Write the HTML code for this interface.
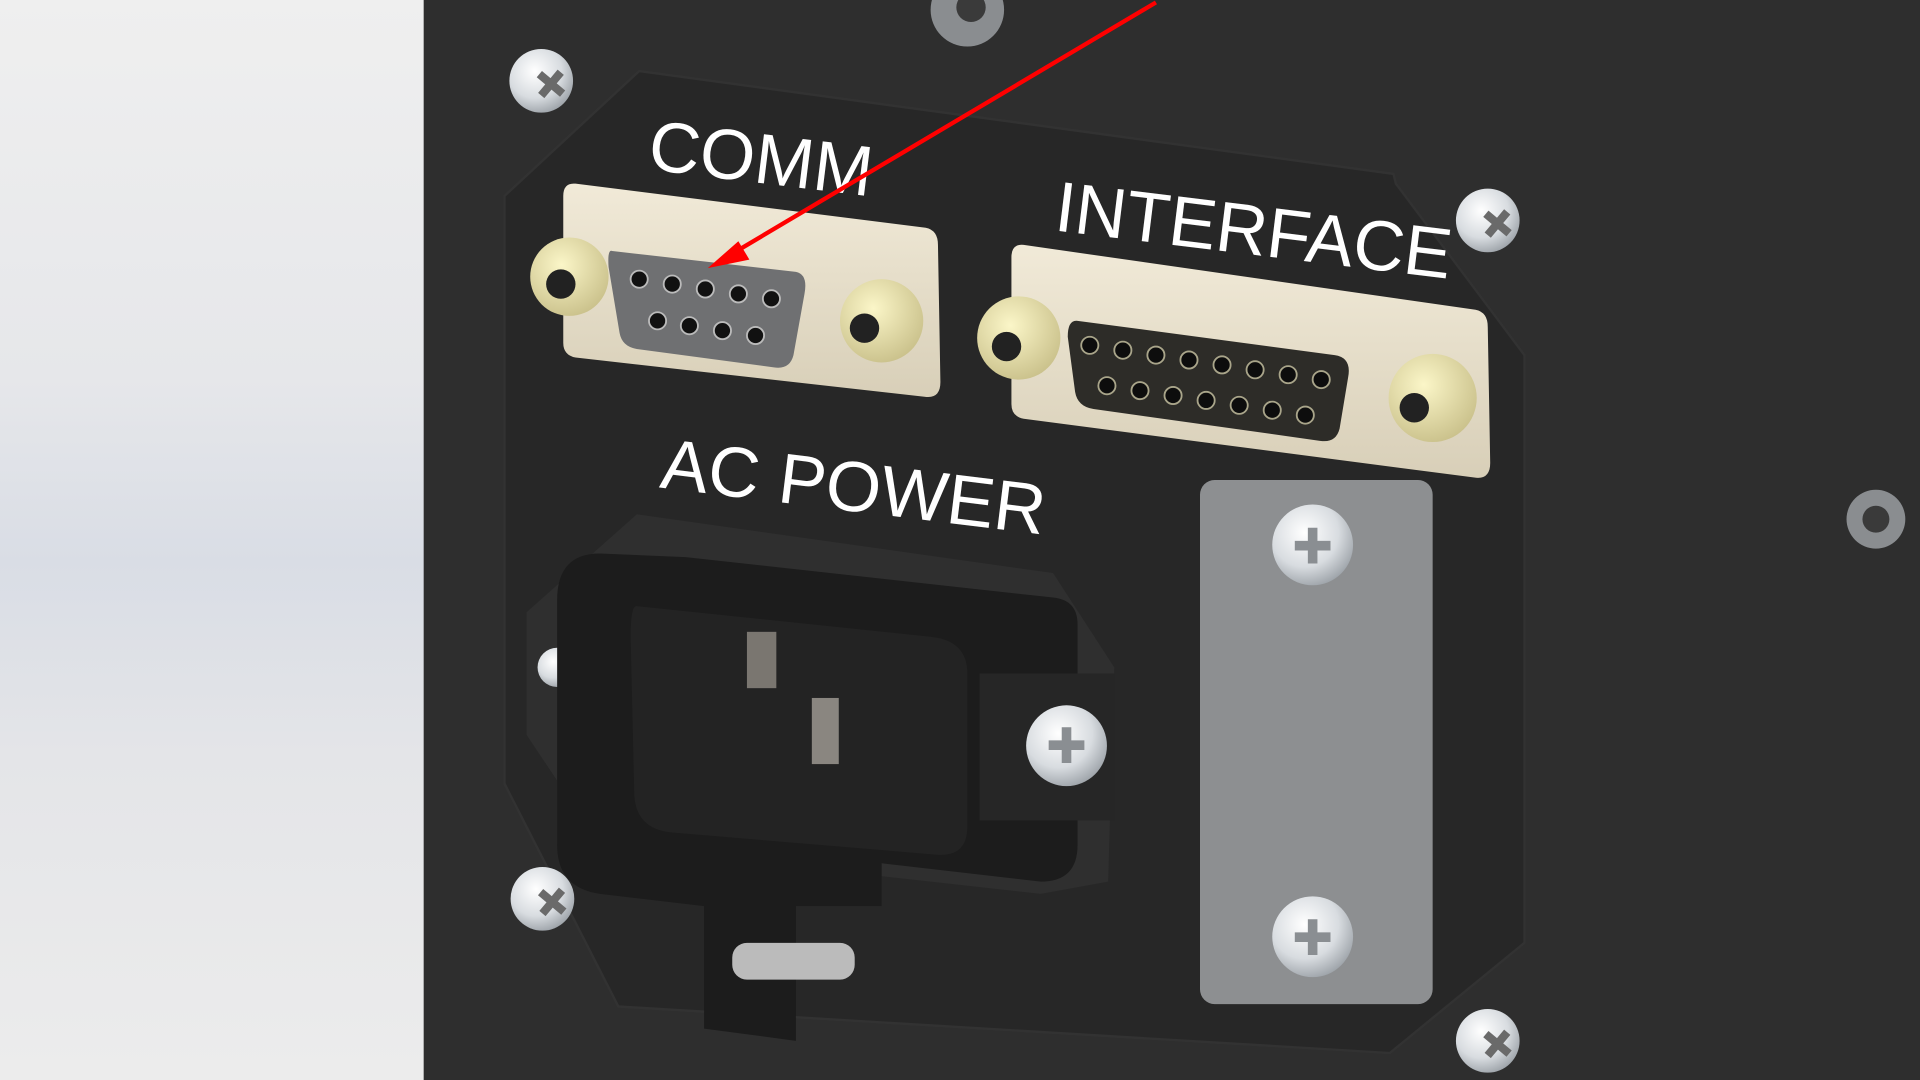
<!DOCTYPE html>
<html><head><meta charset="utf-8"><style>html,body{margin:0;padding:0;width:1920px;height:1080px;overflow:hidden;background:#2d2d2d}svg{display:block}</style></head>
<body>
<svg width="1920" height="1080" viewBox="0 0 1568 882" preserveAspectRatio="none" xmlns="http://www.w3.org/2000/svg">
<defs>
<linearGradient id="lg" x1="0" y1="0" x2="0" y2="1">
<stop offset="0" stop-color="#efefef"/><stop offset="0.35" stop-color="#e6e7ea"/><stop offset="0.52" stop-color="#d9dde5"/><stop offset="0.7" stop-color="#e4e5e8"/><stop offset="1" stop-color="#ececec"/></linearGradient>
<radialGradient id="scr" cx="0.4" cy="0.35" r="0.7"><stop offset="0" stop-color="#ffffff"/><stop offset="0.6" stop-color="#d8dce0"/><stop offset="1" stop-color="#9aa0a6"/></radialGradient>
<radialGradient id="nut" cx="0.4" cy="0.35" r="0.7"><stop offset="0" stop-color="#fbf6c8"/><stop offset="1" stop-color="#c9c08a"/></radialGradient>
<linearGradient id="beige" x1="0" y1="0" x2="0" y2="1"><stop offset="0" stop-color="#f1ead8"/><stop offset="1" stop-color="#d8cfb8"/></linearGradient>
</defs>
<rect width="1568" height="882" fill="#2e2e2e"/>
<rect width="346" height="882" fill="url(#lg)"/>
<!-- plate -->
<polygon points="412,160 522,58 1138,142 1140,150 1245,290 1245,770 1135,860 505,822 412,640" fill="#272727" stroke="#323232" stroke-width="2"/>
<!-- screws -->
<g>
<circle cx="442" cy="66" r="26" fill="url(#scr)"/><text transform="translate(442,78) rotate(40)" font-family="Liberation Sans" font-size="34" text-anchor="middle" fill="#6a6a6a">✚</text>
<circle cx="1215" cy="180" r="26" fill="url(#scr)"/><text transform="translate(1215,192) rotate(40)" font-family="Liberation Sans" font-size="34" text-anchor="middle" fill="#6a6a6a">✚</text>
<circle cx="443" cy="734" r="26" fill="url(#scr)"/><text transform="translate(443,746) rotate(40)" font-family="Liberation Sans" font-size="34" text-anchor="middle" fill="#6a6a6a">✚</text>
<circle cx="1215" cy="850" r="26" fill="url(#scr)"/><text transform="translate(1215,862) rotate(40)" font-family="Liberation Sans" font-size="34" text-anchor="middle" fill="#6a6a6a">✚</text>
<circle cx="1532" cy="424" r="24" fill="#8a8d90"/><circle cx="1532" cy="424" r="11" fill="#3a3a3a"/>
<circle cx="790" cy="8" r="30" fill="#8a8d90"/><circle cx="793" cy="6" r="12" fill="#3a3a3a"/>
</g>
<!-- labels -->
<text transform="translate(528,138) rotate(7)" font-family="Liberation Sans" font-size="58" fill="#fff">COMM</text>
<text transform="translate(860,188) rotate(7)" font-family="Liberation Sans" font-size="58" fill="#fff">INTERFACE</text>
<text transform="translate(538,398) rotate(7)" font-family="Liberation Sans" font-size="58" fill="#fff">AC POWER</text>
<!-- DB9 -->
<path d="M470,150 L756,186 Q766,188 766,200 L768,312 Q768,326 755,324 L470,292 Q460,290 460,280 L460,160 Q460,149 470,150Z" fill="url(#beige)"/>
<path d="M500,205 L650,222 Q660,224 657,240 L648,290 Q645,302 632,300 L520,285 Q508,283 506,272 L497,218 Q496,203 500,205Z" fill="#6f7072"/>
<g fill="#111" stroke="#bbb" stroke-width="1.5"><circle cx="522" cy="228" r="7"/><circle cx="549" cy="232" r="7"/><circle cx="576" cy="236" r="7"/><circle cx="603" cy="240" r="7"/><circle cx="630" cy="244" r="7"/><circle cx="537" cy="262" r="7"/><circle cx="563" cy="266" r="7"/><circle cx="590" cy="270" r="7"/><circle cx="617" cy="274" r="7"/></g>
<circle cx="465" cy="226" r="32" fill="url(#nut)"/><circle cx="458" cy="232" r="12" fill="#222"/>
<circle cx="720" cy="262" r="34" fill="url(#nut)"/><circle cx="706" cy="268" r="12" fill="#222"/>
<!-- DB15 -->
<path d="M836,200 L1205,253 Q1215,255 1215,267 L1217,378 Q1217,392 1204,390 L836,342 Q826,340 826,330 L826,210 Q826,199 836,200Z" fill="url(#beige)"/>
<path d="M880,262 L1090,290 Q1104,292 1101,308 L1094,350 Q1091,362 1078,360 L893,334 Q880,332 878,320 L872,275 Q872,261 880,262Z" fill="#2d2c28"/>
<g fill="#0d0d0d" stroke="#a9a58a" stroke-width="1.5"><circle cx="890" cy="282" r="7"/><circle cx="917" cy="286" r="7"/><circle cx="944" cy="290" r="7"/><circle cx="971" cy="294" r="7"/><circle cx="998" cy="298" r="7"/><circle cx="1025" cy="302" r="7"/><circle cx="1052" cy="306" r="7"/><circle cx="1079" cy="310" r="7"/><circle cx="904" cy="315" r="7"/><circle cx="931" cy="319" r="7"/><circle cx="958" cy="323" r="7"/><circle cx="985" cy="327" r="7"/><circle cx="1012" cy="331" r="7"/><circle cx="1039" cy="335" r="7"/><circle cx="1066" cy="339" r="7"/></g>
<circle cx="832" cy="276" r="34" fill="url(#nut)"/><circle cx="822" cy="283" r="12" fill="#222"/>
<circle cx="1170" cy="325" r="36" fill="url(#nut)"/><circle cx="1155" cy="333" r="12" fill="#222"/>
<!-- AC inlet -->
<polygon points="520,420 860,468 910,545 905,720 850,730 490,690 430,600 430,500" fill="#2f2f2f"/>
<circle cx="455" cy="545" r="16" fill="url(#scr)"/>
<path d="M560,455 L860,488 Q880,490 880,510 L880,690 Q880,720 850,720 L720,705 L720,740 L650,740 L650,850 L575,840 L575,740 L490,730 Q455,725 455,690 L455,490 Q455,452 490,452 Z" fill="#1c1c1c"/>
<path d="M520,495 L760,520 Q790,523 790,550 L790,675 Q790,700 765,698 L550,680 Q520,678 518,650 L515,520 Q515,494 520,495Z" fill="#232323"/>
<rect x="610" y="516" width="24" height="46" fill="#7a7670"/>
<rect x="663" y="570" width="22" height="54" fill="#8a8680"/>
<rect x="800" y="550" width="110" height="120" fill="#262626"/>
<circle cx="871" cy="609" r="33" fill="url(#scr)"/><text x="871" y="623" font-family="Liberation Sans" font-size="40" text-anchor="middle" fill="#8a8e92">✚</text>
<rect x="598" y="770" width="100" height="30" rx="12" fill="#bbb"/>
<!-- blank plate -->
<rect x="980" y="392" width="190" height="428" rx="12" fill="#8d8f91"/>
<circle cx="1072" cy="445" r="33" fill="url(#scr)"/><text x="1072" y="460" font-family="Liberation Sans" font-size="40" text-anchor="middle" fill="#8a8e92">✚</text>
<circle cx="1072" cy="765" r="33" fill="url(#scr)"/><text x="1072" y="780" font-family="Liberation Sans" font-size="40" text-anchor="middle" fill="#8a8e92">✚</text>
<!-- arrow -->
<line x1="944" y1="2" x2="600" y2="206" stroke="#ff0000" stroke-width="3.5"/>
<polygon points="578,219 603,197 612,212" fill="#ff0000"/>
</svg>
</body></html>
